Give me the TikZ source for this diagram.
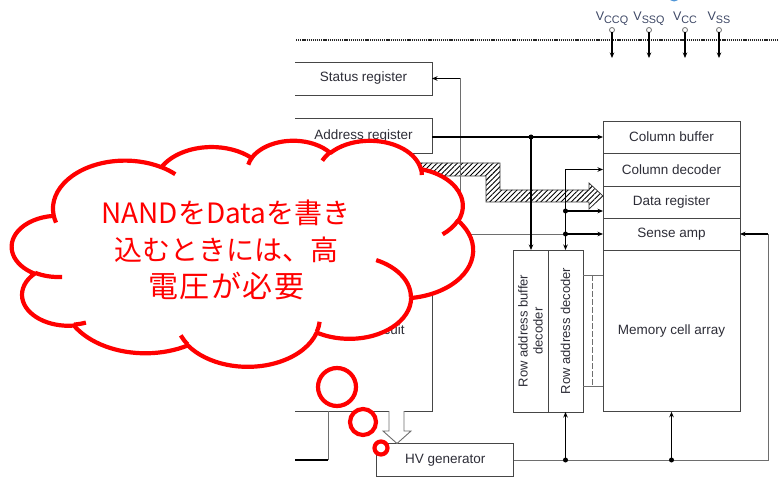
\documentclass[tikz,border=0pt]{standalone}
\usepackage{fontspec}
\setmainfont{Liberation Sans}
\newfontfamily\jpfont{Noto Sans CJK JP}
\usetikzlibrary{arrows.meta,patterns.meta}
\definecolor{txt}{RGB}{45,45,55}
\definecolor{pintxt}{RGB}{60,70,100}
\definecolor{boxc}{RGB}{70,70,70}
\definecolor{wirec}{RGB}{110,110,110}
\definecolor{slideblue}{RGB}{80,150,215}
\begin{document}
\begin{tikzpicture}[x=1pt,y=-1pt,
  every node/.style={inner sep=0pt,outer sep=0pt,text=txt,font=\fontsize{13.5}{16}\selectfont},
  blk/.style={draw=boxc,line width=0.9pt},
  openbox/.style={draw=boxc,line width=0.9pt},
  thinl/.style={draw=wirec,line width=0.9pt},
  sig/.style={draw=black,line width=1.7pt,-{Stealth[length=5.5pt,width=4.5pt]}},
  bus/.style={draw=black,line width=1.7pt},
  dotc/.style={circle,fill=black,minimum size=5pt},
  pin/.style={circle,draw=wirec,fill=white,line width=0.8pt,minimum size=5pt},
  bubble/.style={draw=red,line width=4.2pt,fill=white},
  carc/.style n args={4}{insert path={arc[start angle={atan2((#1)*sin(#3),(#2)*cos(#3))},
      delta angle={mod(atan2((#1)*sin((#3)+(#4)),(#2)*cos((#3)+(#4)))-atan2((#1)*sin(#3),(#2)*cos(#3))+720,360)},
      x radius=#1,y radius=#2]}},
]
\useasboundingbox (0,0) rectangle (779,478);

% ---- edge of a slide ornament at the top
\fill[slideblue] (674,-2.5) ellipse [x radius=5pt,y radius=4pt];

% ---- package boundary and supply pins
\coordinate (dl) at (296,40);
\coordinate (dr0) at (779,40);
\draw[black!85,line width=2pt,dash pattern=on 1.2pt off 0.9pt] (dl) -- (dr0);
\coordinate (pinend) at (0,58);
\foreach \px/\nm/\sub in {612/p1/CCQ,649/p2/SSQ,685/p3/CC,719/p4/SS}{
  \node[pin] (\nm) at (\px,30) {};
  \node[anchor=base,text=pintxt,font=\fontsize{12.5}{14}\selectfont] (\nm l) at (\px,20.5)
     {V\raisebox{-2.6pt}{\fontsize{10.8}{12}\selectfont\sub}};
  \draw[sig] (\nm.south) -- (\nm |- pinend);
}

% ---- left column (control side)
\node[minimum width=137pt,minimum height=33pt] (sr) at (363.5,78.5) {Status register};
\node[minimum width=137pt,minimum height=35pt] (ar) at (363.5,136) {Address register};
\node[minimum width=137pt,minimum height=162pt] (cc) at (363.5,330) {Control circuit};
\foreach \b in {sr,ar,cc}
  \draw[openbox] (\b.north west) -- (\b.north east) -- (\b.south east) -- (\b.south west);

% ---- right column (array side)
\node[blk,minimum width=137pt,minimum height=32pt] (cb) at (671.5,137) {Column buffer};
\node[blk,minimum width=137pt,minimum height=33pt] (cd) at (671.5,169.5) {Column decoder};
\node[blk,minimum width=137pt,minimum height=32pt] (dr) at (671.5,202) {Data register};
\node[blk,minimum width=137pt,minimum height=32pt] (sa) at (671.5,234) {Sense amp};
\node[blk,minimum width=137pt,minimum height=161.5pt] (mca) at (671.5,331) {Memory cell array};
\node[blk,minimum width=35pt,minimum height=162pt] (rab) at (530.5,331) {};
\node[blk,minimum width=35pt,minimum height=162pt] (rad) at (565.5,331) {};
\node[rotate=90,align=center,font=\fontsize{13}{15}\selectfont] (rabt) at (rab.center) {Row address buffer\\decoder};
\node[rotate=90,font=\fontsize{13}{15}\selectfont] (radt) at (rad.center) {Row address decoder};
\node[blk,minimum width=137pt,minimum height=33pt] (hv) at (445.3,460) {HV generator};

% ---- data path (hatched bus)
\draw[black!80,line width=0.7pt,pattern={Lines[angle=45,distance=3.6pt,line width=0.9pt]}]
  (400,163) -- (500,163) -- (500,190) -- (589,190) -- (589,183) -- (dr.west |- 0,196)
  -- (589,209) -- (589,202) -- (486,202) -- (486,176) -- (400,176) -- cycle;

% ---- control wiring
\coordinate (bt) at (460,78.5);
\coordinate (bb) at (460,234);
\coordinate (j1) at (531,137);
\coordinate (j2) at (565.5,169.5);
\coordinate (j3) at (565.5,211);
\coordinate (j4) at (565.5,234);
\draw[thinl] (bt) -- (bb) -- (j4);
\draw[sig] (bt) -- (sr.east);
\draw[sig] (ar.east |- cb.west) -- (cb.west);
\draw[sig] (j1) -- (j1 |- rab.north);
\draw[sig] (j2) -- (cd.west);
\draw[sig] (j2) -- (rad.north);
\draw[sig] (j3) -- (dr.west |- j3);
\draw[sig] (j4) -- (sa.west);
\foreach \j in {j1,j3,j4} \node[dotc] (d\j) at (\j) {};

% ---- row decoder to cell array
\coordinate (wa) at (0,275);
\coordinate (wb) at (0,386);
\draw[thinl] (rad.east |- wa) -- (mca.west |- wa);
\draw[thinl] (rad.east |- wb) -- (mca.west |- wb);
\draw[thinl,dashed,dash pattern=on 6pt off 2pt] (592,275) -- (592,386);

% ---- high-voltage distribution
\coordinate (rl1) at (768,460);
\coordinate (rl2) at (768,234);
\coordinate (k1) at (rad.south |- hv.east);
\coordinate (k2) at (mca.south |- hv.east);
\draw[thinl] (hv.east) -- (rl1) -- (rl2);
\draw[sig] (rl2) -- (sa.east);
\draw[sig] (k1) -- (rad.south);
\draw[sig] (k2) -- (mca.south);
\node[dotc] (dk1) at (k1) {};
\node[dotc] (dk2) at (k2) {};

% ---- control circuit outputs
\coordinate (c1) at (328,460);
\coordinate (c0) at (295,460);
\draw[thinl] (c1 |- cc.south) -- (c1);
\draw[bus] (c1) -- (c0);
\draw[draw=wirec,fill=white,line width=0.9pt]
  (389,411) -- (389,431) -- (383,431) -- (hv.north -| 397,0) -- (411,431) -- (404,431) -- (404,411);

% ---- thought cloud
\begin{scope}[shift={(12,140)},x=1.06713pt,y=-0.523148pt]
\draw[bubble,line join=round] (39.00,143.70)
  [carc={67.53}{91.90}{-190.4875}{123.7805}]
  [carc={53.33}{72.67}{-144.1024}{89.9452}]
  [carc={43.65}{59.45}{-145.8079}{99.7230}]
  [carc={48.57}{65.95}{-130.9861}{117.2417}]
  [carc={53.33}{72.73}{-78.7089}{109.0269}]
  [carc={67.75}{92.20}{-46.2673}{130.2690}]
  [carc={57.85}{78.67}{0.6250}{114.0333}]
  [carc={67.52}{92.15}{22.4516}{115.1726}]
  [carc={77.20}{105.43}{66.2426}{75.7110}]
  [carc={43.60}{59.18}{-274.9421}{146.7356}]
  [carc={43.45}{59.45}{-246.8285}{152.5189}] -- cycle;
\draw[draw=red,line width=4.2pt]
  (46.93,261.77) [carc={43.45}{59.45}{86.7420}{26.4295}]
  (69.28,348.99) [carc={43.60}{59.18}{73.6105}{11.4475}]
  (164.78,390.90) [carc={67.52}{92.15}{137.6242}{14.0811}]
  (288.27,347.51) [carc={67.52}{92.15}{6.4533}{15.9984}]
  (341.29,229.54) [carc={57.85}{78.67}{-70.2924}{70.9174}]
  (417.98,153.54) [carc={53.33}{72.73}{30.3180}{27.7515}]
  (383.24,54.26) [carc={48.57}{65.95}{-13.7443}{14.8589}]
  (290.78,39.52) [carc={48.57}{65.95}{-149.1815}{18.1954}]
  (221.41,47.20) [carc={43.65}{59.45}{-163.4943}{17.6864}]
  (140.00,51.92) [carc={67.53}{91.90}{-66.7070}{12.3194}]
  (41.27,157.89) [carc={67.53}{91.90}{157.6544}{11.8582}];
\end{scope}
\node[bubble,circle,minimum size=38pt] (b1) at (337,387) {};
\node[bubble,circle,minimum size=26pt] (b2) at (363,422) {};
\node[bubble,circle,minimum size=13pt] (b3) at (381,448) {};
\node[text=red,align=center,font=\jpfont\fontsize{28}{37}\selectfont] (msg) at (226,250)
  {NANDをDataを書き\\込むときには、高\\{\fontsize{30}{37}\selectfont\addfontfeature{LetterSpace=5}電圧が必要}};
\end{tikzpicture}
\end{document}
